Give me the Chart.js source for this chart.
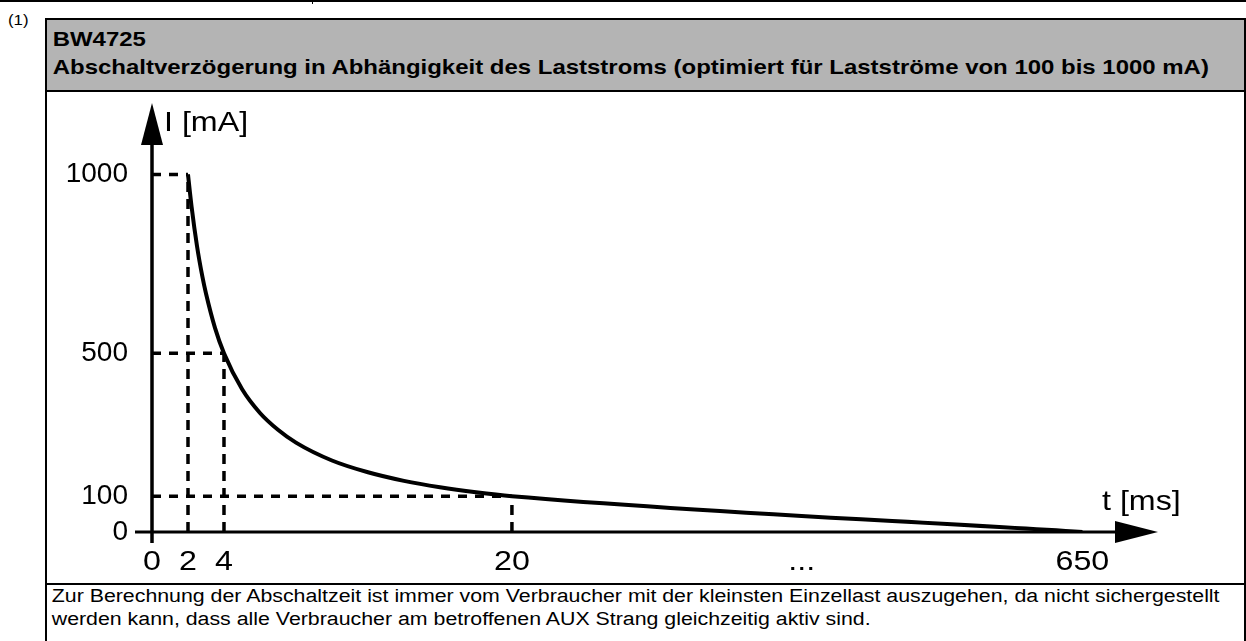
<!DOCTYPE html>
<html><head><meta charset="utf-8">
<script src="https://cdn.jsdelivr.net/npm/chart.js@4"></script>
<style>
html,body{margin:0;padding:0;background:#fff;}
body{width:1246px;height:641px;overflow:hidden;position:relative;font-family:"Liberation Sans",Arial,sans-serif;color:#000;}
.topline{position:absolute;left:0;top:0;width:1246px;height:2px;background:#000;}
.topdiv{position:absolute;left:312px;top:0;width:1px;height:4px;background:#000;}
.note{position:absolute;left:8px;top:12px;font-size:14px;line-height:16px;transform:scaleX(1.2);transform-origin:left top;}
.frame{position:absolute;left:45px;top:18px;width:1197px;height:700px;border:2px solid #000;}
.head{position:absolute;left:0;top:0;width:100%;height:70px;background:#b4b4b4;border-bottom:2px solid #000;}
.head div{font-weight:bold;font-size:21px;line-height:28px;padding-left:5px;white-space:nowrap;transform:scaleX(1.141);transform-origin:left top;}
.head .l1{padding-top:5px;}
.foot{position:absolute;left:0;top:563px;width:100%;border-top:2px solid #000;}
.foot div{font-size:18px;line-height:23px;padding:0 0 0 4px;white-space:nowrap;transform:scaleX(1.185);transform-origin:left top;}
#c{position:absolute;left:0;top:0;}
</style>
</head>
<body>
<div class="topline"></div><div class="topdiv"></div>
<div class="note">(1)</div>
<div class="frame">
  <div class="head">
    <div class="l1">BW4725</div>
    <div>Abschaltverzögerung in Abhängigkeit des Laststroms (optimiert für Lastströme von 100 bis 1000 mA)</div>
  </div>
  <div class="foot"><div>Zur Berechnung der Abschaltzeit ist immer vom Verbraucher mit der kleinsten Einzellast auszugehen, da nicht sichergestellt<br>werden kann, dass alle Verbraucher am betroffenen AUX Strang gleichzeitig aktiv sind.</div></div>
</div>
<canvas id="c" width="1246" height="641"></canvas>
<script>
// ---- data ----
const timeMs    = [2, 2.2, 2.5, 2.8, 3, 3.5, 4, 5, 6, 7, 8, 10, 12, 14, 16, 18, 20, 650];
const currentMa = [1000, 910, 800, 714, 667, 571, 500, 400, 333, 286, 250, 200, 167, 143, 125, 111, 100, 0];
const xTickValues = [0, 2, 4, 20, 340, 650];
const xTickLabels = ['0', '2', '4', '20', '...', '650'];
const yTickValues = [0, 100, 500, 1000];
const yTickLabels = ['0', '100', '500', '1000'];
const guideT = [2, 4, 20];
const guideI = [1000, 500, 100];
const xAxisTitle = 't [ms]';
const yAxisTitle = 'I [mA]';

// linear axis with a compressed section after the break
class BrokenLinearScale extends Chart.LinearScale {
  static id = 'brokenLinear';
  static defaults = {};
  toUnits(v) {
    const o = this.options, b = o.breakValue, e = o.breakEndValue, eu = o.breakEndUnit;
    return v <= b ? v : b + (v - b) * (eu - b) / (e - b);
  }
  fromUnits(u) {
    const o = this.options, b = o.breakValue, e = o.breakEndValue, eu = o.breakEndUnit;
    return u <= b ? u : b + (u - b) * (e - b) / (eu - b);
  }
  determineDataLimits() { this.min = this.options.unitMin; this.max = this.options.unitMax; }
  buildTicks() { return this.options.tickValues.map(v => ({ value: v })); }
  getPixelForValue(v) { return super.getPixelForValue(this.toUnits(v)); }
  getValueForPixel(p) { return this.fromUnits(super.getValueForPixel(p)); }
}
Chart.register(BrokenLinearScale);

const FONT = '"Liberation Sans", Arial, sans-serif';
const datasets = [{
  data: timeMs.map((t, i) => ({ x: t, y: currentMa[i] })),
  borderColor: '#000', borderWidth: 4, pointRadius: 0, cubicInterpolationMode: 'monotone'
}];
guideT.forEach((t, i) => {
  datasets.push({ data: [{ x: 0, y: guideI[i] }, { x: t, y: guideI[i] }], borderColor: '#000', borderWidth: 3.5, borderDash: [9, 8], pointRadius: 0 });
  datasets.push({ data: [{ x: t, y: 0 }, { x: t, y: guideI[i] }], borderColor: '#000', borderWidth: 3.5, borderDash: [10, 7], pointRadius: 0 });
});

function stretchedText(ctx, text, x, y, align, stretch) {
  ctx.save();
  ctx.translate(x, y);
  ctx.scale(stretch, 1);
  ctx.textAlign = align;
  ctx.fillText(text, 0, 0);
  ctx.restore();
}

const axesPlugin = {
  id: 'axesArrows',
  afterDraw(chart) {
    const { ctx, chartArea: ca, scales: { x, y } } = chart;
    const x0 = x.getPixelForValue(0), y0 = y.getPixelForValue(0);
    ctx.save();
    ctx.strokeStyle = '#000'; ctx.fillStyle = '#000'; ctx.lineCap = 'butt';
    // y axis
    ctx.lineWidth = 3.5;
    ctx.beginPath(); ctx.moveTo(x0, y0 + 11); ctx.lineTo(x0, ca.top + 40); ctx.stroke();
    ctx.beginPath(); ctx.moveTo(x0, ca.top); ctx.lineTo(x0 + 11, ca.top + 42); ctx.lineTo(x0 - 11, ca.top + 42); ctx.closePath(); ctx.fill();
    // x axis
    ctx.lineWidth = 3;
    ctx.beginPath(); ctx.moveTo(x0 - 17, y0); ctx.lineTo(ca.right - 40, y0); ctx.stroke();
    ctx.beginPath(); ctx.moveTo(ca.right, y0); ctx.lineTo(ca.right - 43, y0 - 11); ctx.lineTo(ca.right - 43, y0 + 11); ctx.closePath(); ctx.fill();
    // tick labels (from the scales' own ticks)
    ctx.font = '28px ' + FONT; ctx.textBaseline = 'middle';
    x.ticks.forEach((t, i) => stretchedText(ctx, xTickLabels[i], x.getPixelForTick(i), y0 + 30, 'center', 1.15));
    y.ticks.forEach((t, i) => stretchedText(ctx, yTickLabels[i], x0 - 24, y.getPixelForTick(i), 'right', 1.0));
    // titles
    stretchedText(ctx, yAxisTitle, x0 + 12, ca.top + 20, 'left', 1.15);
    stretchedText(ctx, xAxisTitle, ca.right - 56, y0 - 30, 'left', 1.15);
    ctx.restore();
  }
};

new Chart(document.getElementById('c'), {
  type: 'line',
  data: { datasets },
  options: {
    responsive: false, animation: false, events: [],
    layout: { padding: { top: 103, right: 88, bottom: 0, left: 0 }, autoPadding: false },
    plugins: { legend: { display: false }, tooltip: { enabled: false } },
    scales: {
      x: {
        type: 'brokenLinear', position: 'bottom',
        unitMin: 0, unitMax: 55.9, breakValue: 20, breakEndValue: 650, breakEndUnit: 51.7,
        tickValues: xTickValues,
        grid: { display: false, drawTicks: false }, border: { display: false },
        ticks: { display: false, autoSkip: false, maxRotation: 0, callback: (v, i) => xTickLabels[i] },
        afterFit: s => { s.height = 109; }
      },
      y: {
        type: 'linear', min: 0, max: 1200,
        afterBuildTicks: s => { s.ticks = yTickValues.map(v => ({ value: v })); },
        grid: { display: false, drawTicks: false }, border: { display: false },
        ticks: { display: false, autoSkip: false },
        afterFit: s => { s.width = 152; }
      }
    }
  },
  plugins: [axesPlugin]
});
</script>
</body></html>
